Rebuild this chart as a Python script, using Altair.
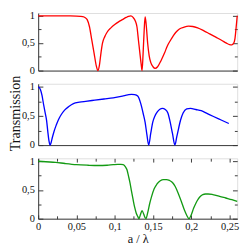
import altair as alt
import pandas as pd

# ---- data ----
red_x = [0, 0.02, 0.04, 0.05, 0.055, 0.058, 0.061, 0.064, 0.067, 0.070, 0.073, 0.076, 0.078,
         0.080, 0.082, 0.084, 0.087, 0.090, 0.095, 0.100, 0.105, 0.110, 0.115, 0.118, 0.121,
         0.124, 0.127, 0.129, 0.131, 0.133, 0.1345, 0.1357, 0.137, 0.1385, 0.1397, 0.141,
         0.143, 0.145, 0.147, 0.150, 0.1527, 0.156, 0.1607, 0.165, 0.1687, 0.1727, 0.1766,
         0.1805, 0.1845, 0.190, 0.1964, 0.202, 0.2083, 0.216, 0.224, 0.232, 0.240, 0.246,
         0.250, 0.253, 0.255, 0.257, 0.259, 0.260]
red_y = [1.0, 1.0, 0.998, 0.995, 0.99, 0.985, 0.97, 0.93, 0.80, 0.56, 0.32, 0.08, 0.0,
         0.10, 0.32, 0.50, 0.62, 0.70, 0.78, 0.84, 0.89, 0.93, 0.97, 0.99, 1.0,
         0.97, 0.90, 0.80, 0.55, 0.30, 0.12, 0.0, 0.30, 0.75, 0.98, 0.85,
         0.50, 0.27, 0.15, 0.07, 0.04, 0.07, 0.19, 0.32, 0.45, 0.55, 0.64,
         0.71, 0.76, 0.79, 0.81, 0.805, 0.78, 0.73, 0.67, 0.61, 0.55, 0.50,
         0.475, 0.47, 0.49, 0.58, 0.85, 1.0]

blue_x = [0, 0.003, 0.005, 0.007, 0.009, 0.011, 0.0125, 0.014, 0.0155, 0.017, 0.0185,
          0.0206, 0.0235, 0.0266, 0.030, 0.0345, 0.040, 0.046, 0.054, 0.062, 0.074, 0.086,
          0.098, 0.110, 0.117, 0.122, 0.126, 0.130, 0.134, 0.137, 0.1397, 0.142, 0.1444,
          0.147, 0.1496, 0.1525, 0.1556, 0.159, 0.1623, 0.166, 0.1694, 0.172, 0.1754, 0.1786,
          0.181, 0.1833, 0.186, 0.1893, 0.194, 0.199, 0.206, 0.213, 0.221, 0.229, 0.239, 0.249]
blue_y = [1.0, 0.95, 0.85, 0.70, 0.56, 0.42, 0.24, 0.08, 0.0, 0.05, 0.13,
          0.23, 0.34, 0.44, 0.52, 0.60, 0.66, 0.71, 0.735, 0.75, 0.77, 0.79,
          0.81, 0.84, 0.86, 0.87, 0.865, 0.84, 0.71, 0.55, 0.39, 0.18, 0.0,
          0.20, 0.39, 0.50, 0.57, 0.615, 0.63, 0.61, 0.55, 0.42, 0.20, 0.0,
          0.14, 0.28, 0.43, 0.55, 0.62, 0.63, 0.61, 0.59, 0.54, 0.49, 0.43, 0.37]

green_x = [0, 0.01, 0.0226, 0.035, 0.050, 0.065, 0.078, 0.090, 0.098, 0.104, 0.108, 0.111,
           0.114, 0.116, 0.118, 0.120, 0.122, 0.124, 0.126, 0.128, 0.130, 0.1317, 0.1335,
           0.1357, 0.1378, 0.1395, 0.1408, 0.143, 0.1456, 0.148, 0.1515, 0.155, 0.1595,
           0.1635, 0.1675, 0.1715, 0.1754, 0.179, 0.183, 0.187, 0.191, 0.194, 0.197, 0.200,
           0.203, 0.206, 0.209, 0.212, 0.215, 0.2185, 0.222, 0.228, 0.237, 0.245, 0.253, 0.260]
green_y = [1.0, 0.99, 0.98, 0.96, 0.94, 0.93, 0.925, 0.93, 0.94, 0.945, 0.945, 0.94,
           0.90, 0.85, 0.74, 0.62, 0.47, 0.33, 0.20, 0.10, 0.04, 0.0, 0.07,
           0.14, 0.08, 0.02, 0.0, 0.10, 0.26, 0.38, 0.52, 0.60, 0.66,
           0.68, 0.68, 0.665, 0.63, 0.56, 0.44, 0.30, 0.15, 0.06, 0.0, 0.07,
           0.18, 0.27, 0.34, 0.39, 0.42, 0.43, 0.43, 0.42, 0.39, 0.36, 0.33, 0.30]

x_major = [0, 0.05, 0.1, 0.15, 0.2, 0.25]
x_minor = [0.025, 0.075, 0.125, 0.175, 0.225]
y_major = [0, 0.5, 1]
y_minor = [0.25, 0.75]

x_title = "a / λ"
y_title = ["Transmission"]

# ---- styling ----
W = 211
H1, H2, H3 = 61, 65, 64
FONT = "Liberation Serif"
AX = "#333333"
FRAME = "#9a9a9a"
TXT = "#111111"
COMMA = "replace(datum.label, '.', ',')"

xscale = alt.Scale(domain=[0, 0.26], nice=False, zero=False)
yscale = alt.Scale(domain=[0, 1.05], nice=False, zero=False)


def tick_axis(orient, offset, values, size):
    return alt.Axis(orient=orient, offset=offset, values=values, tickSize=size,
                    tickColor=AX, tickWidth=1, labels=False, domain=False,
                    grid=False, title=None)


def panel(xs, ys, color, H, bottom):
    df = pd.DataFrame({"x": xs, "y": ys})
    if bottom:
        xaxis = alt.Axis(values=x_major, format="~g", labelExpr=COMMA, ticks=False,
                         domainColor=AX, labelFont=FONT, labelFontSize=11,
                         labelColor=TXT, labelPadding=3, labelFlush=False,
                         labelOverlap=False, grid=False, titleFont=FONT,
                         titleFontSize=13, titleFontWeight="normal",
                         titleColor=TXT, titlePadding=1)
        xt = x_title
    else:
        xaxis = alt.Axis(labels=False, ticks=False, domainColor=AX, grid=False)
        xt = None
    yaxis = alt.Axis(values=y_major, format="~g", labelExpr=COMMA, ticks=False,
                     domainColor=AX, labelFont=FONT, labelFontSize=11, labelColor=TXT,
                     labelPadding=4, labelFlush=False, labelOverlap=False, grid=False)

    main = alt.Chart(df).mark_line(color=color, strokeWidth=1.4,
                                   interpolate="monotone").encode(
        x=alt.X("x:Q", scale=xscale, axis=xaxis, title=xt),
        y=alt.Y("y:Q", scale=yscale, axis=yaxis, title=None),
    )
    layers = [main]
    specs = [
        ("right", "top", y_major, x_major, 5, 4),
        ("right", "top", y_minor, x_minor, 3, 3),
        ("left", "bottom", y_major, x_major, 5, 4),
        ("left", "bottom", y_minor, x_minor, 3, 3),
    ]
    for yo, xo, yv, xv, ys_, xs_ in specs:
        if bottom:
            xa = alt.X("x:Q", scale=xscale, axis=tick_axis(xo, -H, xv, xs_))
        else:
            xa = alt.X("x:Q", scale=xscale, axis=None)
        layers.append(
            alt.Chart(df).mark_line(opacity=0).encode(
                x=xa,
                y=alt.Y("y:Q", scale=yscale, axis=tick_axis(yo, -W, yv, ys_)),
            )
        )
    return (alt.layer(*layers)
            .resolve_axis(x="independent", y="independent")
            .properties(width=W, height=H))


p1 = panel(red_x, red_y, "#ff0000", H1, False)
p2 = panel(blue_x, blue_y, "#0000ff", H2, False)
p3 = panel(green_x, green_y, "#139a13", H3, True)
panels = alt.vconcat(p1, p2, p3, spacing=4)

title_df = pd.DataFrame({"t": y_title})
ytitle_chart = alt.Chart(title_df).mark_text(
    angle=270, font=FONT, fontSize=15, color=TXT, baseline="middle", align="center"
).encode(
    text="t:N", x=alt.value(6), y=alt.value(H1 + 13 + H2 / 2)
).properties(width=8, height=H1 + H2 + H3 + 24,
             view=alt.ViewBackground(stroke="transparent"))

chart = (alt.hconcat(ytitle_chart, panels, spacing=-4)
         .properties(padding={"left": 0, "top": -6, "right": 0, "bottom": 0})
         .configure_view(stroke=FRAME, strokeWidth=1)
         .configure(background="white"))

chart.save("out.html", embed_options={"renderer": "svg", "actions": False})
